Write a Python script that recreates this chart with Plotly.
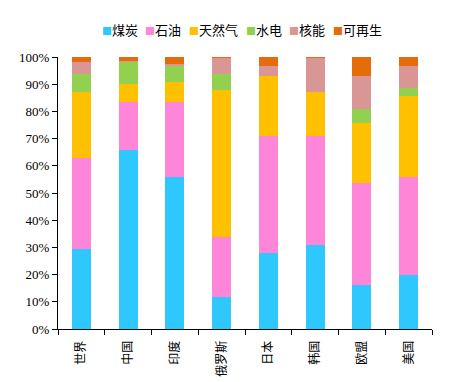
import plotly.graph_objects as go

regions = ["世界", "中国", "印度", "俄罗斯", "日本", "韩国", "欧盟", "美国"]
coal = [29.4, 65.8, 56.0, 11.9, 28.1, 31.0, 16.2, 19.9]
oil = [33.4, 17.5, 27.3, 21.8, 43.0, 40.1, 37.6, 35.9]
gas = [24.4, 6.8, 7.4, 54.2, 21.9, 16.1, 22.0, 30.0]
hydro = [6.7, 8.2, 6.1, 6.0, 0.0, 0.0, 5.0, 2.7]
nuclear = [4.4, 0.4, 0.6, 6.0, 3.7, 12.6, 12.2, 8.2]
renew = [1.7, 1.3, 2.6, 0.1, 3.3, 0.2, 7.0, 3.3]
series_names = ["煤炭", "石油", "天然气", "水电", "核能", "可再生"]
series_values = [coal, oil, gas, hydro, nuclear, renew]
colors = ["#2EC8FF", "#FF85D9", "#FFC000", "#92D050", "#D99694", "#E46C0A"]

fig = go.Figure()
for name, vals, c in zip(series_names, series_values, colors):
    fig.add_trace(go.Bar(x=regions, y=[v / 100 for v in vals], name=name,
                         marker=dict(color=c, line=dict(width=0)), showlegend=False))

# compact legend drawn as text
L, R = 58, 432
legend_px = [100, 143, 187, 244, 287, 331]
for px, name, c in zip(legend_px, series_names, colors):
    fig.add_annotation(
        x=(px - L) / (R - L), y=1, xref="paper", yref="paper",
        yshift=28, xanchor="left", yanchor="middle", showarrow=False,
        text=f"<span style='color:{c};font-size:10px'>■</span>{name}",
        font=dict(family="Noto Sans CJK SC", size=13, color="#000"),
    )

fig.update_layout(
    barmode="stack", bargap=0.59,
    width=450, height=382,
    margin=dict(l=58, r=450 - 432, t=57, b=53),
    plot_bgcolor="white", paper_bgcolor="white",
)
fig.update_yaxes(range=[0, 1], dtick=0.1, tickformat=".0%", showgrid=False,
                 showline=True, linecolor="black", linewidth=1,
                 ticks="outside", ticklen=5, tickcolor="black",
                 tickfont=dict(family="Liberation Serif", size=13, color="black"),
                 zeroline=False, automargin=False)
fig.update_xaxes(showline=True, linecolor="black", linewidth=1,
                 ticks="outside", ticklen=5, tickcolor="black", tickson="boundaries",
                 tickangle=-90, ticklabelstandoff=6,
                 tickfont=dict(family="Noto Sans CJK SC", size=12, color="black"),
                 showgrid=False, automargin=False)

fig.write_html("out.html", config={"displayModeBar": False},
               post_script="document.body.style.margin='0';document.body.style.overflow='hidden';")
